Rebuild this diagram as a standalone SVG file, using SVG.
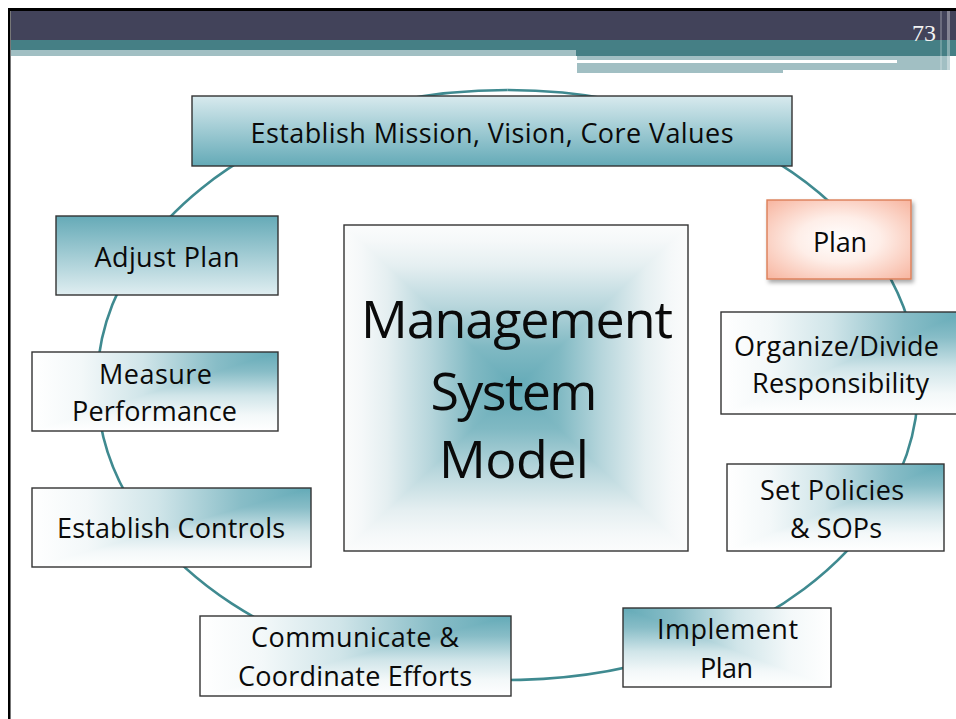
<svg xmlns="http://www.w3.org/2000/svg" width="956" height="719" viewBox="0 0 956 719">
<style>
.t{font-family:'Open Sans','Liberation Sans',sans-serif;font-size:27px;fill:#0a0a0a;text-anchor:middle}
.big{font-family:'Open Sans','Liberation Sans',sans-serif;font-size:52px;fill:#0a0a0a;text-anchor:middle}
.box{stroke:#333;stroke-width:1.4;fill:none}
.ring{fill:none;stroke:#3f8a90;stroke-width:2.6}
.iso{isolation:isolate}
.lt{mix-blend-mode:lighten}
</style>
<defs>
<linearGradient id="gMission" x1="0" y1="0" x2="0" y2="1">
<stop offset="0" stop-color="#d8eaee"/><stop offset="1" stop-color="#64aab7"/>
</linearGradient>
<linearGradient id="gAdjust" x1="0" y1="0" x2="0" y2="1">
<stop offset="0" stop-color="#65aab7"/><stop offset="1" stop-color="#e0eef1"/>
</linearGradient>
<linearGradient id="hR" x1="1" y1="0" x2="0" y2="0">
<stop offset="0" stop-color="#63aab7"/><stop offset="0.25" stop-color="#88bdc7"/><stop offset="0.55" stop-color="#d0e5e9"/><stop offset="0.8" stop-color="#f3f8f9"/><stop offset="1" stop-color="#ffffff"/>
</linearGradient>
<linearGradient id="hL" href="#hR" x1="0" y1="0" x2="1" y2="0"/>
<linearGradient id="vT" href="#hR" x1="0" y1="0" x2="0" y2="1"/>
<radialGradient id="gPlan" cx="0.5" cy="0.5" r="0.72">
<stop offset="0" stop-color="#ffffff"/><stop offset="0.4" stop-color="#feeee8"/><stop offset="1" stop-color="#f7b29c"/>
</radialGradient>
<linearGradient id="cT" gradientUnits="userSpaceOnUse" x1="516" y1="388" x2="516" y2="225">
<stop offset="0" stop-color="#63aab7"/><stop offset="0.25" stop-color="#80b9c3"/><stop offset="0.5" stop-color="#b7d6dc"/><stop offset="0.75" stop-color="#e5eff1"/><stop offset="0.9" stop-color="#f5f8f9"/><stop offset="1" stop-color="#fbfcfc"/>
</linearGradient>
<linearGradient id="cB" href="#cT" x1="516" y1="388" x2="516" y2="551"/>
<linearGradient id="cL" href="#cT" x1="516" y1="388" x2="344" y2="388"/>
<linearGradient id="cR" href="#cT" x1="516" y1="388" x2="688" y2="388"/>
<filter id="sh" x="-10%" y="-10%" width="130%" height="140%">
<feDropShadow dx="2" dy="3" stdDeviation="2" flood-color="#000" flood-opacity="0.35"/>
</filter>
</defs>

<!-- slide header -->
<g id="header">
<rect x="0" y="0" width="956" height="719" fill="#ffffff"/>
<rect x="8" y="8" width="948" height="3" fill="#000"/>
<rect x="11" y="11" width="945" height="29" fill="#42435a"/>
<rect x="11" y="40" width="945" height="10" fill="#457f85"/>
<rect x="11" y="50" width="565" height="6" fill="#a1bfc3"/>
<rect x="576" y="50" width="380" height="6" fill="#457f85"/>
<rect x="577" y="56" width="373" height="4" fill="#a1bfc3"/>
<rect x="577" y="60" width="320" height="3" fill="#ffffff"/>
<rect x="897" y="60" width="53" height="3" fill="#a1bfc3"/>
<rect x="577" y="63" width="373" height="7" fill="#a1bfc3"/>
<rect x="577" y="70" width="206" height="3" fill="#a1bfc3"/>
<rect x="940" y="11" width="2" height="61" fill="#ffffff" opacity="0.22"/>
<rect x="947" y="11" width="3" height="61" fill="#ffffff" opacity="0.35"/>
<rect x="8" y="8" width="2" height="711" fill="#000"/>
<rect x="10" y="11" width="1" height="708" fill="#777"/>
<text x="936" y="41" font-family="'Liberation Serif',serif" font-size="24" fill="#f2f2f2" text-anchor="end">73</text>
</g>

<g id="connectors">
<path class="ring" d="M507.5 90 A410.5 295 0 0 1 865 240"/>
<path class="ring" d="M865 240 A410.5 295 0 0 1 916.9 363"/>
<path class="ring" d="M916.9 363 A410.5 295 0 0 1 881.3 507"/>
<path class="ring" d="M881.3 507 A410.5 295 0 0 1 693.4 648"/>
<path class="ring" d="M693.4 648 A410.5 295 0 0 1 345.3 656"/>
<path class="ring" d="M345.3 656 A410.5 295 0 0 1 147.7 527"/>
<path class="ring" d="M147.7 527 A410.5 295 0 0 1 97.1 391"/>
<path class="ring" d="M97.1 391 A410.5 295 0 0 1 139 255"/>
<path class="ring" d="M139 255 A410.5 295 0 0 1 507.5 90"/>
</g>

<g id="center">
<rect x="344" y="225" width="344" height="326" fill="#fbfcfc"/>
<polygon points="344,225 688,225 516,388" fill="url(#cT)" shape-rendering="crispEdges"/>
<polygon points="344,551 688,551 516,388" fill="url(#cB)" shape-rendering="crispEdges"/>
<polygon points="344,225 344,551 516,388" fill="url(#cL)" shape-rendering="crispEdges"/>
<polygon points="688,225 688,551 516,388" fill="url(#cR)" shape-rendering="crispEdges"/>
<rect x="344" y="225" width="344" height="326" class="box"/>
<text class="big" x="517" y="338" textLength="312">Management</text>
<text class="big" x="514" y="410" textLength="167">System</text>
<text class="big" x="514" y="478" textLength="150">Model</text>
</g>

<g id="mission">
<rect class="box" x="192" y="96" width="600" height="70" style="fill:url(#gMission)"/>
<text class="t" x="492" y="143" textLength="483">Establish Mission, Vision, Core Values</text>
</g>

<g id="plan">
<rect x="767" y="200" width="144" height="79" fill="url(#gPlan)" stroke="#dc7e58" stroke-width="1.4" filter="url(#sh)"/>
<text class="t" x="840" y="252" textLength="54">Plan</text>
</g>

<g id="organize">
<g class="iso">
<rect x="721" y="312" width="245" height="102" fill="url(#hR)"/>
<rect class="lt" x="721" y="312" width="245" height="102" fill="url(#vT)"/>
</g>
<rect class="box" x="721" y="312" width="245" height="102"/>
<text class="t" x="836.5" y="356" textLength="205">Organize/Divide</text>
<text class="t" x="840.5" y="393" textLength="177">Responsibility</text>
</g>

<g id="policies">
<g class="iso">
<rect x="727" y="464" width="217" height="87" fill="url(#hR)"/>
<rect class="lt" x="727" y="464" width="217" height="87" fill="url(#vT)"/>
</g>
<rect class="box" x="727" y="464" width="217" height="87"/>
<text class="t" x="832" y="500" textLength="144">Set Policies</text>
<text class="t" x="836" y="538" textLength="92">&amp; SOPs</text>
</g>

<g id="implement">
<g class="iso">
<rect x="623" y="608" width="208" height="79" fill="url(#hL)"/>
<rect class="lt" x="623" y="608" width="208" height="79" fill="url(#vT)"/>
</g>
<rect class="box" x="623" y="608" width="208" height="79"/>
<text class="t" x="727.5" y="639" textLength="141">Implement</text>
<text class="t" x="726.5" y="678" textLength="53">Plan</text>
</g>

<g id="communicate">
<g class="iso">
<rect x="200" y="616" width="311" height="80" fill="url(#hR)"/>
<rect class="lt" x="200" y="616" width="311" height="80" fill="url(#vT)"/>
</g>
<rect class="box" x="200" y="616" width="311" height="80"/>
<text class="t" x="355" y="647" textLength="208">Communicate &amp;</text>
<text class="t" x="355" y="686" textLength="234">Coordinate Efforts</text>
</g>

<g id="controls">
<g class="iso">
<rect x="32" y="488" width="279" height="79" fill="url(#hR)"/>
<rect class="lt" x="32" y="488" width="279" height="79" fill="url(#vT)"/>
</g>
<rect class="box" x="32" y="488" width="279" height="79"/>
<text class="t" x="171" y="538" textLength="228">Establish Controls</text>
</g>

<g id="measure">
<g class="iso">
<rect x="32" y="352" width="246" height="79" fill="url(#hR)"/>
<rect class="lt" x="32" y="352" width="246" height="79" fill="url(#vT)"/>
</g>
<rect class="box" x="32" y="352" width="246" height="79"/>
<text class="t" x="155.5" y="384" textLength="113">Measure</text>
<text class="t" x="154.5" y="421" textLength="165">Performance</text>
</g>

<g id="adjust">
<rect class="box" x="56" y="216" width="222" height="79" style="fill:url(#gAdjust)"/>
<text class="t" x="167" y="267" textLength="145">Adjust Plan</text>
</g>
</svg>
